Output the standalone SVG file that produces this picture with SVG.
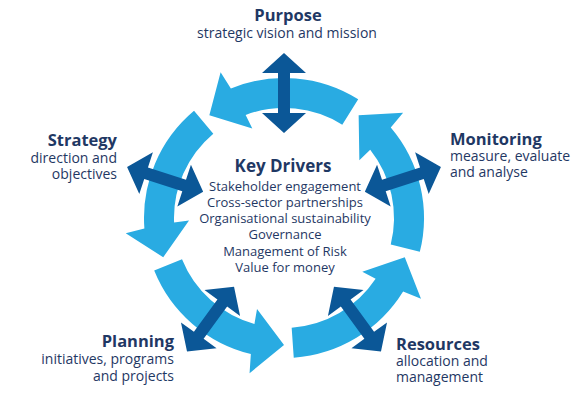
<svg xmlns="http://www.w3.org/2000/svg" width="581" height="409" viewBox="0 0 581 409">
<style>
.cyc{fill:#29ABE2}
.dbl{fill:#0B5797}
.t{font-family:"Open Sans","Liberation Sans",sans-serif;fill:#1F3864}
.h{font-weight:bold;font-size:16.5px}
.o{font-size:14px}
.b{font-size:13px}
.kd{font-weight:bold;font-size:17px}
</style>
<defs>
<path id="curve" d="M358.19,99.28 A140,140 0 0 0 230.87,88.47 L220.61,72.18 L209.35,115.26 L252.29,128.45 L245.65,114.90 A110,110 0 0 1 342.29,124.72 Z"/>
<path id="dblarrow" d="M284,53 L306,73 L290,73 L290,113 L306,113 L284,133 L262,113 L278,113 L278,73 L262,73 Z"/>
</defs>
<rect width="581" height="409" fill="#ffffff"/>
<g id="cycle" class="cyc">
<use href="#curve"/>
<use href="#curve" transform="rotate(72 284 218)"/>
<use href="#curve" transform="rotate(144 284 218)"/>
<use href="#curve" transform="rotate(216 284 218)"/>
<use href="#curve" transform="rotate(288 284 218)"/>
</g>
<g id="connectors" class="dbl">
<use href="#dblarrow"/>
<use href="#dblarrow" transform="rotate(72 284 218)"/>
<use href="#dblarrow" transform="rotate(144 284 218)"/>
<use href="#dblarrow" transform="rotate(216 284 218)"/>
<use href="#dblarrow" transform="rotate(288 284 218)"/>
</g>
<g id="purpose" class="t" text-anchor="middle">
<text x="288" y="21" class="h">Purpose</text>
<text x="287" y="38" class="o">strategic vision and mission</text>
</g>
<g id="strategy" class="t" text-anchor="end">
<text x="117" y="146" class="h">Strategy</text>
<text x="117" y="163" class="o">direction and</text>
<text x="117" y="179" class="o">objectives</text>
</g>
<g id="monitoring" class="t" text-anchor="start">
<text x="450" y="145" class="h">Monitoring</text>
<text x="450" y="161" class="o">measure, evaluate</text>
<text x="450" y="177" class="o">and analyse</text>
</g>
<g id="planning" class="t" text-anchor="end">
<text x="174" y="347" class="h">Planning</text>
<text x="174" y="364" class="o">initiatives, programs</text>
<text x="174" y="381" class="o">and projects</text>
</g>
<g id="resources" class="t" text-anchor="start">
<text x="396" y="350" class="h">Resources</text>
<text x="396" y="366" class="o">allocation and</text>
<text x="396" y="382" class="o">management</text>
</g>
<g id="key-drivers" class="t" text-anchor="middle">
<text x="283" y="172" class="kd">Key Drivers</text>
<text x="285" y="191" class="b">Stakeholder engagement</text>
<text x="285" y="207" class="b">Cross-sector partnerships</text>
<text x="285" y="223" class="b">Organisational sustainability</text>
<text x="285" y="239" class="b">Governance</text>
<text x="285" y="256" class="b">Management of Risk</text>
<text x="285" y="272" class="b">Value for money</text>
</g>
</svg>
